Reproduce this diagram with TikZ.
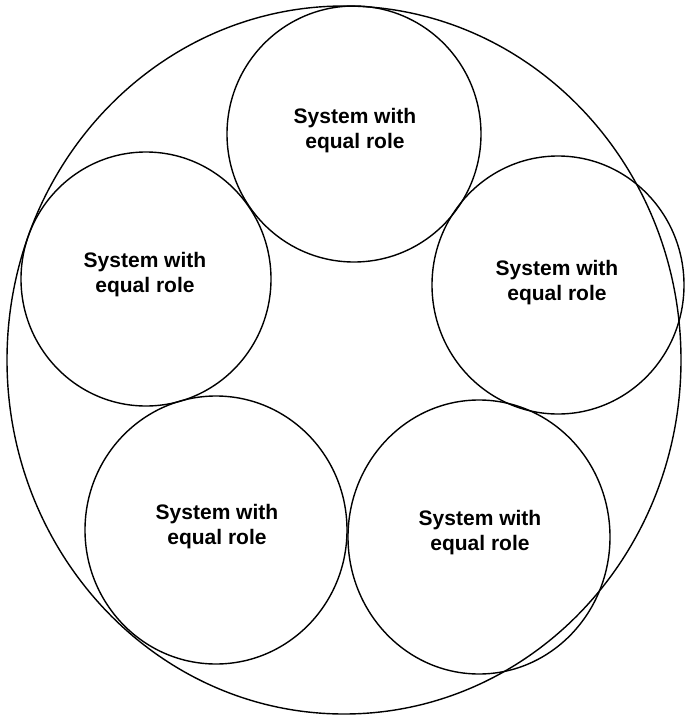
\documentclass[tikz,border=0pt]{standalone}
\usepackage{fontspec}
\setmainfont{Liberation Sans}
\begin{document}
\begin{tikzpicture}[x=1pt,y=-1pt,
  ring/.style={draw=black,line width=1.4pt},
  rolelabel/.style={align=center,font=\fontsize{21}{25}\selectfont\bfseries,inner sep=0pt}]
\useasboundingbox (0,0) rectangle (686,718);
% enclosing system
\draw[ring] (344,360) ellipse [x radius=337,y radius=354];
% member systems
\draw[ring] (354,134) ellipse [x radius=127,y radius=128];
\draw[ring] (146,279) ellipse [x radius=125,y radius=127];
\draw[ring] (558,285) ellipse [x radius=126,y radius=129];
\draw[ring] (216,530) ellipse [x radius=131,y radius=134];
\draw[ring] (479,537) ellipse [x radius=131,y radius=137];
% labels
\node[rolelabel] (top)   at (355,131) {System with\\equal role};
\node[rolelabel] (left)  at (145,275) {System with\\equal role};
\node[rolelabel] (right) at (557,283) {System with\\equal role};
\node[rolelabel] (bl)    at (217,527) {System with\\equal role};
\node[rolelabel] (br)    at (480,533) {System with\\equal role};
\end{tikzpicture}
\end{document}
